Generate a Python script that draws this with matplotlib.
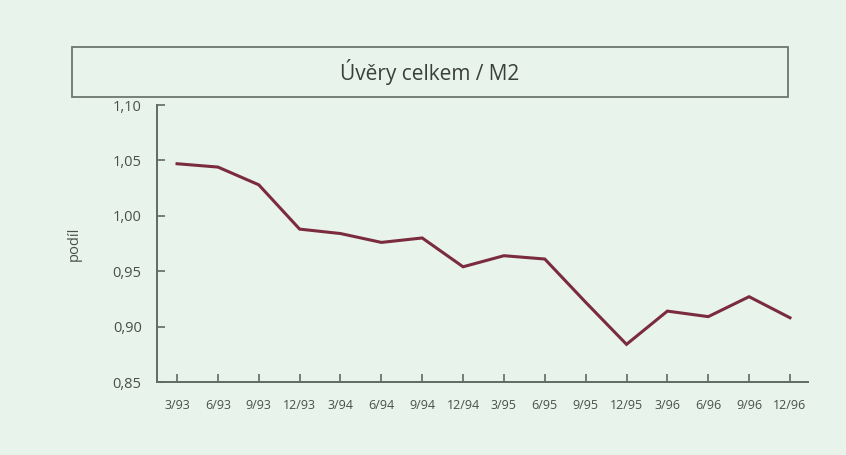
import numpy as np
import matplotlib.pyplot as plt
from matplotlib.patches import Rectangle
from matplotlib.ticker import FuncFormatter

# data
quarters = ['3/93', '6/93', '9/93', '12/93', '3/94', '6/94', '9/94', '12/94',
            '3/95', '6/95', '9/95', '12/95', '3/96', '6/96', '9/96', '12/96']
ratio = [1.047, 1.044, 1.028, 0.988, 0.984, 0.976, 0.980, 0.954,
         0.964, 0.961, 0.922, 0.884, 0.914, 0.909, 0.927, 0.908]
yticks = [0.85, 0.90, 0.95, 1.00, 1.05, 1.10]

bg = '#e8f3ec'
axis_col = '#5f6b66'
text_col = '#4a4f4c'

plt.rcParams['font.family'] = ['Open Sans', 'DejaVu Sans']

fig = plt.figure(figsize=(8.46, 4.55), dpi=100, facecolor=bg)
ax = fig.add_axes([0.1856, 0.1604, 0.7694, 0.6088], facecolor=bg)

x = np.arange(len(quarters))
ax.plot(x, ratio, color='#7b2b3e', lw=2.2, solid_joinstyle='miter')

ax.set_xlim(-0.49, len(quarters) - 1 + 0.44)
ax.set_ylim(0.85, 1.10)
ax.set_xticks(x)
ax.set_xticklabels(quarters, fontsize=9, color=text_col)
ax.set_yticks(yticks)
ax.yaxis.set_major_formatter(FuncFormatter(lambda v, p: f'{v:.2f}'.replace('.', ',')))
ax.tick_params(axis='y', direction='in', length=6, width=1.2, colors=axis_col,
               labelcolor=text_col, labelsize=10.5, pad=11)
ax.tick_params(axis='x', direction='in', length=6, width=1.2, colors=axis_col,
               labelcolor=text_col, pad=12)

for s in ['top', 'right']:
    ax.spines[s].set_visible(False)
for s in ['left', 'bottom']:
    ax.spines[s].set_color(axis_col)
    ax.spines[s].set_linewidth(1.4)

ax.set_ylabel('podíl', fontsize=10.5, color=text_col, labelpad=22)

# title box
fig.patches.append(Rectangle((0.0851, 0.7868), 0.8463, 0.1099, transform=fig.transFigure,
                             facecolor=bg, edgecolor='#6e7571', lw=1.3))
fig.text(0.508, 0.842, 'Úvěry celkem / M2', ha='center', va='center',
         fontsize=15, color='#3a3f3c')

fig.savefig('out.png', dpi=100, facecolor=bg)
